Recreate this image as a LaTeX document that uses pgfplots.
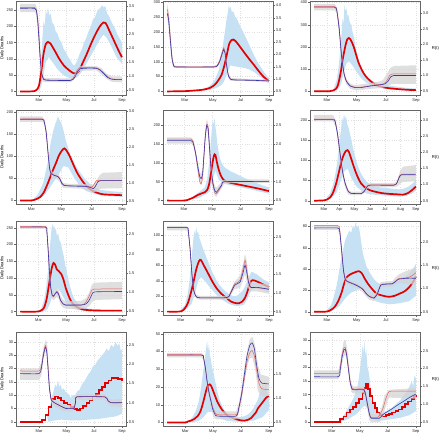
\documentclass[border=0pt]{standalone}
\usepackage{fontspec}
\setmainfont{Liberation Sans}
\usepackage{pgfplots}
\pgfplotsset{compat=1.18}
\definecolor{bandblue}{RGB}{198,225,244}
\definecolor{rblue}{RGB}{55,55,175}
\definecolor{rred}{RGB}{238,95,95}
\definecolor{dred}{RGB}{226,0,0}
\pgfplotsset{
  base/.style={scale only axis, width=110pt, height=94pt, anchor=south west,
    axis line style={draw=black!60, line width=0.4pt},
    tick style={draw=black!60, line width=0.35pt},
    tick align=outside, major tick length=1.6pt,
    tick label style={font=\fontsize{4}{4.5}\selectfont, text=black!85, inner sep=1pt},
    /pgf/number format/assume math mode=true,
    clip=true},
  lft/.style={base, xtick={0,61,122,184}, xticklabels={Mar,May,Jul,Sep},
    tick pos=left, grid=major,
    major grid style={dotted, black!12, line width=0.3pt},
    yticklabel style={/pgf/number format/fixed}, xticklabel style={yshift=-0.8pt},
    every axis y label/.style={at={(axis description cs:-0.125,0.5)}, rotate=90, anchor=center, font=\fontsize{4.2}{4.5}\selectfont}},
  rgt/.style={base, axis x line=none, axis y line*=right,
    yticklabel style={/pgf/number format/.cd, fixed, fixed zerofill, precision=1}},
  rlab/.style={ylabel={R(t)}, every axis y label/.style={at={(axis description cs:1.14,0.5)}, anchor=center, font=\fontsize{4.2}{4.5}\selectfont}},
  bandB/.style={fill=bandblue, draw=none},
  bandG/.style={fill=black!17, draw=none, fill opacity=0.75},
  dline/.style={color=dred, line width=1.7pt, smooth, tension=0.5},
  dstep/.style={color=dred, line width=1.6pt, const plot mark left},
  rb/.style={color=rblue, line width=0.6pt, smooth, tension=0.3},
  rr/.style={color=rred, line width=0.5pt, smooth, tension=0.3},
}
\begin{document}
\begin{tikzpicture}
\path[use as bounding box] (0,0) rectangle (440pt,435pt);
% ---------------- Panel 1
\begin{axis}[lft, at={(16pt,340pt)}, xmin=-51, xmax=193, ymin=-11, ymax=278, ytick={0,50,...,250}, ylabel={Daily Deaths}]
\addplot[bandB] coordinates {(0,15) (4,80) (7,150) (10,215) (13,200) (15,250) (18,235) (20,258) (23,232) (26,240) (29,212) (33,205) (37,185) (41,178) (45,160) (50,150) (55,130) (60,120) (65,105) (70,95) (75,82) (79,80) (84,92) (90,115) (95,130) (100,150) (105,165) (110,185) (115,200) (120,222) (125,230) (130,250) (135,255) (140,265) (143,258) (147,262) (151,240) (156,230) (162,210) (168,195) (174,175) (180,160) (184,150) (184,85) (172,105) (160,140) (150,165) (143,175) (135,160) (125,135) (115,110) (105,85) (95,60) (85,45) (78,38) (70,40) (60,45) (50,55) (40,70) (30,90) (22,105) (15,90) (10,50) (5,15) (0,2)} -- cycle;
\addplot[dline] coordinates {(-42,0) (-20,0) (-10,1) (-5,5) (0,18) (5,60) (10,115) (15,145) (20,152) (25,148) (35,125) (45,100) (55,80) (65,67) (75,57) (80,55) (88,62) (96,85) (105,112) (115,145) (125,175) (135,200) (143,212) (148,210) (155,190) (165,160) (175,130) (184,105)};
\end{axis}
\begin{axis}[rgt, at={(16pt,340pt)}, xmin=-51, xmax=193, ymin=0.32, ymax=3.68, ytick={0.5,1,...,3.5}]
\addplot[bandG] coordinates {(-42,3.58) (-8,3.58) (-4,3.4) (0,2.8) (4,1.8) (8,1.08) (12,0.93) (70,0.91) (78,1.05) (86,1.3) (90,1.35) (128,1.35) (138,1.28) (150,1.08) (162,0.99) (184,0.98) (184,0.77) (162,0.79) (150,0.9) (138,1.06) (128,1.2) (90,1.18) (84,1.1) (76,0.85) (70,0.78) (12,0.78) (8,0.82) (4,1.3) (0,2.0) (-4,2.9) (-8,3.28) (-42,3.28)} -- cycle;
\addplot[rr] coordinates {(-42,3.45) (-10,3.45) (-6,3.38) (-3,3.05) (0,2.4) (3,1.6) (6,1.1) (10,0.9) (15,0.86) (40,0.85) (70,0.85) (75,0.9) (80,1.05) (85,1.22) (90,1.3) (110,1.3) (128,1.29) (136,1.22) (144,1.1) (152,0.98) (160,0.9) (170,0.88) (184,0.88)};
\addplot[rb] coordinates {(-42,3.42) (-10,3.42) (-6,3.35) (-3,3.0) (0,2.3) (3,1.55) (6,1.08) (10,0.88) (15,0.85) (40,0.84) (70,0.84) (76,0.88) (81,1.0) (86,1.18) (91,1.26) (110,1.28) (128,1.27) (136,1.2) (144,1.08) (152,0.95) (160,0.89) (170,0.87) (184,0.87)};
\end{axis}
% ---------------- Panel 2
\begin{axis}[lft, at={(163pt,340pt)}, xmin=-48, xmax=193, ymin=-12, ymax=305, ytick={0,50,...,300}]
\addplot[bandB] coordinates {(40,8) (50,14) (58,25) (65,38) (70,55) (75,75) (79,110) (82,140) (85,175) (88,205) (91,240) (94,265) (96,290) (98,280) (100,285) (103,268) (106,270) (110,252) (114,245) (118,230) (123,215) (128,200) (134,180) (140,160) (146,140) (152,120) (158,102) (165,85) (172,68) (178,55) (184,45) (184,28) (175,35) (165,50) (152,65) (140,75) (128,80) (118,82) (108,85) (100,88) (95,72) (90,50) (85,32) (80,22) (72,14) (62,8) (50,4) (40,2)} -- cycle;
\addplot[dline] coordinates {(-39,0) (0,1) (20,3) (40,6) (55,12) (65,22) (72,35) (80,55) (86,85) (92,125) (97,160) (102,173) (106,175) (112,168) (122,148) (132,127) (142,107) (152,88) (162,68) (172,50) (184,35)};
\end{axis}
\begin{axis}[rgt, at={(163pt,340pt)}, xmin=-48, xmax=193, ymin=0.35, ymax=4.18, ytick={0.5,1,...,4}]
\addplot[bandG] coordinates {(-39,4.05) (-36,3.8) (-32,3.0) (-28,2.0) (-24,1.58) (-18,1.53) (60,1.53) (70,1.58) (76,1.8) (82,2.2) (85,2.35) (88,2.2) (91,1.75) (95,1.25) (100,1.05) (140,1.0) (184,0.97) (184,0.87) (140,0.92) (100,0.93) (95,1.05) (91,1.45) (88,1.9) (85,2.05) (82,1.9) (76,1.6) (70,1.47) (60,1.45) (-18,1.45) (-24,1.45) (-28,1.6) (-32,2.2) (-36,3.2) (-39,3.5)} -- cycle;
\addplot[rr] coordinates {(-39,3.85) (-36,3.6) (-32,2.7) (-28,1.85) (-24,1.53) (-18,1.5) (60,1.5) (70,1.54) (76,1.75) (82,2.12) (85,2.27) (88,2.1) (91,1.65) (95,1.18) (100,1.0) (110,0.97) (140,0.96) (160,0.95) (184,0.93)};
\addplot[rb] coordinates {(-39,3.68) (-36,3.45) (-32,2.6) (-28,1.8) (-24,1.52) (-18,1.49) (60,1.49) (70,1.52) (76,1.7) (82,2.05) (85,2.2) (88,2.05) (91,1.6) (95,1.15) (100,0.99) (110,0.96) (140,0.95) (160,0.94) (184,0.92)};
\end{axis}
% ---------------- Panel 3
\begin{axis}[lft, at={(310pt,340pt)}, xmin=-35.4, xmax=192.4, ymin=-17, ymax=407, ytick={0,100,...,400}]
\addplot[bandB] coordinates {(15,20) (20,50) (24,110) (27,180) (30,260) (32,330) (34,300) (36,390) (38,360) (40,375) (42,340) (44,345) (47,310) (50,300) (53,265) (56,240) (59,200) (62,170) (66,135) (70,110) (75,88) (80,70) (88,55) (95,45) (110,32) (130,25) (160,16) (184,12) (184,2) (160,4) (130,8) (110,15) (95,25) (80,40) (70,60) (60,90) (52,118) (45,135) (40,125) (35,90) (30,40) (25,15) (20,5) (15,1)} -- cycle;
\addplot[dline] coordinates {(-27,0) (5,0) (12,3) (18,10) (22,25) (25,50) (29,95) (32,140) (36,185) (39,215) (42,235) (45,240) (48,235) (52,218) (56,195) (60,165) (65,130) (70,105) (76,80) (83,60) (92,42) (100,30) (112,20) (127,14) (150,9) (170,6) (184,5)};
\end{axis}
\begin{axis}[rgt, rlab, at={(310pt,340pt)}, xmin=-35.4, xmax=192.4, ymin=0.36, ymax=3.4, ytick={0.5,1,...,3}]
\addplot[bandG] coordinates {(-27,3.3) (16,3.3) (20,3.2) (25,2.65) (30,1.75) (35,1.15) (40,0.88) (48,0.72) (58,0.68) (70,0.7) (90,0.75) (110,0.8) (116,0.85) (124,1.05) (132,1.25) (140,1.3) (184,1.32) (184,0.72) (140,0.72) (132,0.7) (124,0.63) (116,0.6) (110,0.58) (90,0.56) (70,0.52) (58,0.52) (48,0.56) (40,0.7) (35,0.92) (30,1.45) (25,2.3) (20,3.0) (16,3.1) (-27,3.1)} -- cycle;
\addplot[rr] coordinates {(-27,3.22) (15,3.22) (20,3.12) (25,2.55) (30,1.65) (35,1.08) (40,0.82) (48,0.66) (58,0.61) (70,0.61) (90,0.66) (110,0.7) (118,0.73) (124,0.83) (130,1.0) (136,1.04) (184,1.04)};
\addplot[rb] coordinates {(-27,3.2) (15,3.2) (20,3.1) (25,2.5) (30,1.6) (35,1.05) (40,0.8) (48,0.65) (58,0.6) (70,0.6) (90,0.65) (110,0.69) (120,0.72) (126,0.8) (132,0.95) (138,0.99) (184,0.99)};
\end{axis}
% ---------------- Panel 4
\begin{axis}[lft, at={(16pt,231pt)}, xmin=-31.3, xmax=192.3, ymin=-8, ymax=205, ytick={0,50,...,200}, ylabel={Daily Deaths}]
\addplot[bandB] coordinates {(5,5) (12,12) (18,25) (24,40) (30,70) (35,95) (39,130) (42,145) (45,160) (48,172) (51,180) (54,190) (57,183) (60,176) (63,168) (66,155) (70,135) (75,118) (80,100) (85,90) (92,75) (100,62) (110,47) (125,32) (140,24) (160,21) (184,19) (184,8) (160,10) (140,12) (125,16) (110,22) (95,38) (85,55) (75,75) (65,78) (55,58) (45,42) (35,25) (25,10) (15,4) (5,1)} -- cycle;
\addplot[dline] coordinates {(-23,0) (0,0) (5,1) (10,3) (18,8) (25,18) (32,35) (39,55) (45,72) (50,85) (56,102) (62,113) (67,118) (72,112) (78,100) (85,82) (92,65) (100,50) (110,35) (120,25) (132,18) (145,14) (160,13) (184,12)};
\end{axis}
\begin{axis}[rgt, at={(16pt,231pt)}, xmin=-31.3, xmax=192.3, ymin=0.41, ymax=3.03, ytick={0.5,1,...,3}]
\addplot[bandG] coordinates {(-23,2.85) (22,2.85) (27,2.75) (31,2.45) (35,1.85) (38,1.45) (41,1.32) (48,1.28) (54,1.25) (58,1.18) (62,1.05) (66,0.99) (80,0.97) (110,0.97) (120,0.95) (126,0.95) (132,1.05) (138,1.2) (145,1.28) (184,1.3) (184,0.85) (145,0.84) (138,0.83) (132,0.76) (126,0.73) (120,0.78) (110,0.83) (80,0.85) (66,0.86) (62,0.9) (58,1.02) (54,1.08) (48,1.12) (41,1.15) (38,1.3) (35,1.7) (31,2.3) (27,2.62) (22,2.7) (-23,2.7)} -- cycle;
\addplot[rr] coordinates {(-23,2.78) (22,2.78) (26,2.71) (30,2.42) (34,1.82) (37,1.42) (40,1.27) (48,1.21) (54,1.18) (58,1.11) (62,0.99) (66,0.94) (80,0.92) (110,0.91) (118,0.89) (123,0.88) (127,0.95) (132,1.06) (138,1.07) (184,1.07)};
\addplot[rb] coordinates {(-23,2.77) (22,2.77) (26,2.7) (30,2.4) (34,1.8) (37,1.4) (40,1.25) (48,1.2) (54,1.17) (58,1.1) (62,0.98) (66,0.93) (80,0.91) (110,0.9) (120,0.87) (126,0.84) (130,0.9) (135,1.03) (140,1.06) (184,1.06)};
\end{axis}
% ---------------- Panel 5
\begin{axis}[lft, at={(163pt,231pt)}, xmin=-45.8, xmax=192.8, ymin=-9, ymax=239, ytick={0,50,...,200}]
\addplot[bandB] coordinates {(20,12) (30,20) (38,28) (45,35) (50,55) (54,100) (57,140) (60,185) (62,210) (64,200) (66,218) (68,195) (70,175) (72,150) (75,128) (78,110) (82,98) (86,90) (92,84) (100,78) (110,72) (120,66) (130,60) (140,55) (150,50) (160,45) (170,40) (184,35) (184,18) (170,22) (150,28) (130,33) (110,38) (95,42) (85,45) (75,55) (68,80) (62,55) (56,25) (50,18) (40,12) (30,6) (20,3)} -- cycle;
\addplot[dline] coordinates {(-37,0) (0,0) (10,3) (20,8) (30,15) (38,19) (45,22) (50,28) (54,42) (58,70) (61,95) (64,115) (66,122) (68,120) (71,102) (75,82) (79,68) (84,57) (90,51) (100,47) (120,42) (140,37) (160,32) (184,25)};
\end{axis}
\begin{axis}[rgt, at={(163pt,231pt)}, xmin=-45.8, xmax=192.8, ymin=0.41, ymax=2.89, ytick={0.5,1,...,2.5}]
\addplot[bandG] coordinates {(-37,2.17) (15,2.17) (20,2.1) (25,1.85) (30,1.5) (34,1.25) (37,1.2) (40,1.35) (43,1.85) (46,2.35) (49,2.65) (52,2.55) (55,2.05) (58,1.55) (62,1.12) (66,0.9) (70,0.84) (75,0.9) (82,1.0) (88,1.06) (184,1.06) (184,0.97) (88,0.96) (82,0.84) (75,0.7) (70,0.6) (66,0.63) (62,0.86) (58,1.25) (55,1.75) (52,2.25) (49,2.38) (46,2.05) (43,1.55) (40,1.05) (37,0.9) (34,0.95) (30,1.2) (25,1.65) (20,1.95) (15,2.0) (-37,2.0)} -- cycle;
\addplot[rr] coordinates {(-37,2.12) (15,2.12) (20,2.03) (25,1.72) (30,1.3) (34,1.0) (37,0.94) (40,1.1) (43,1.65) (46,2.2) (49,2.52) (52,2.45) (55,1.95) (58,1.38) (62,0.95) (66,0.72) (70,0.68) (75,0.76) (82,0.9) (88,1.0) (184,1.01)};
\addplot[rb] coordinates {(-37,2.08) (15,2.08) (20,2.0) (25,1.75) (30,1.38) (34,1.13) (37,1.08) (40,1.2) (43,1.7) (46,2.2) (49,2.48) (52,2.4) (55,1.9) (58,1.4) (62,1.0) (66,0.78) (70,0.72) (75,0.8) (82,0.92) (88,1.0) (184,1.0)};
\end{axis}
% ---------------- Panel 6
\begin{axis}[lft, at={(310pt,231pt)}, xmin=-28.2, xmax=192.2, ymin=-8, ymax=224, ytick={0,50,...,200}, xtick={0,31,61,92,122,153,184}, xticklabels={Mar,Apr,May,Jun,Jul,Aug,Sep}]
\addplot[bandB] coordinates {(5,8) (12,18) (18,40) (24,75) (28,110) (31,150) (34,175) (36,205) (38,195) (40,215) (42,200) (44,210) (46,190) (49,180) (52,165) (55,148) (58,130) (62,110) (66,92) (70,78) (75,65) (80,55) (86,46) (95,38) (105,34) (120,32) (135,30) (150,28) (160,30) (168,34) (175,40) (180,46) (184,52) (184,25) (175,17) (165,12) (150,10) (130,12) (100,15) (85,18) (75,25) (65,35) (55,55) (47,80) (40,72) (32,45) (25,20) (15,6) (5,1)} -- cycle;
\addplot[dline] coordinates {(-20,0) (0,1) (6,3) (12,8) (18,20) (24,42) (30,72) (35,98) (40,115) (44,123) (47,125) (50,120) (54,105) (58,90) (63,72) (68,57) (74,43) (80,35) (90,27) (100,23) (115,19) (130,17) (145,16) (158,15) (168,19) (176,26) (184,35)};
\end{axis}
\begin{axis}[rgt, rlab, at={(310pt,231pt)}, xmin=-28.2, xmax=192.2, ymin=0.4, ymax=3.3, ytick={0.5,1,...,3}]
\addplot[bandG] coordinates {(-20,3.15) (18,3.15) (24,2.95) (30,2.3) (36,1.55) (42,1.1) (48,0.85) (54,0.78) (74,0.78) (80,0.86) (88,1.02) (92,1.04) (140,1.04) (146,1.1) (152,1.4) (158,1.55) (184,1.6) (184,1.1) (158,1.08) (152,1.02) (146,0.94) (140,0.92) (92,0.92) (88,0.9) (80,0.74) (74,0.67) (54,0.67) (48,0.7) (42,0.92) (36,1.3) (30,2.0) (24,2.75) (18,2.95) (-20,2.95)} -- cycle;
\addplot[rr] coordinates {(-20,3.02) (18,3.02) (22,2.97) (27,2.58) (32,1.98) (37,1.42) (42,1.06) (48,0.81) (54,0.73) (74,0.72) (80,0.79) (86,0.94) (92,0.99) (140,0.99) (146,1.06) (150,1.22) (155,1.32) (184,1.32)};
\addplot[rb] coordinates {(-20,3.0) (18,3.0) (22,2.95) (27,2.55) (32,1.95) (37,1.4) (42,1.05) (48,0.8) (54,0.73) (74,0.72) (80,0.78) (86,0.93) (92,0.98) (140,0.98) (146,1.05) (150,1.2) (155,1.3) (184,1.3)};
\end{axis}
% ---------------- Panel 7
\begin{axis}[lft, at={(16pt,120pt)}, xmin=-50, xmax=193, ymin=-10, ymax=270, ytick={0,50,...,250}, ylabel={Daily Deaths}]
\addplot[bandB] coordinates {(0,3) (6,10) (12,35) (16,65) (19,100) (22,140) (24,175) (26,210) (28,240) (30,262) (32,250) (34,258) (36,242) (38,248) (40,228) (43,232) (46,212) (49,205) (52,185) (55,168) (58,145) (62,120) (66,95) (70,72) (75,50) (80,35) (88,22) (95,15) (110,9) (140,6) (184,6) (184,0) (140,0) (110,1) (95,3) (80,7) (70,15) (60,30) (50,55) (42,70) (36,65) (30,45) (24,20) (18,5) (10,1) (0,0)} -- cycle;
\addplot[dline] coordinates {(-41,0) (-5,0) (5,3) (12,12) (18,40) (24,90) (29,130) (33,145) (37,138) (40,126) (45,120) (50,112) (55,95) (60,70) (66,48) (72,30) (80,18) (90,10) (100,6) (115,4) (140,3) (184,3)};
\end{axis}
\begin{axis}[rgt, at={(16pt,120pt)}, xmin=-50, xmax=193, ymin=0.41, ymax=2.85, ytick={0.5,1,...,2.5}]
\addplot[bandG] coordinates {(-41,2.73) (15,2.73) (18,2.68) (21,2.3) (24,1.7) (27,1.25) (30,1.05) (33,1.0) (36,1.06) (40,1.12) (44,1.06) (48,0.92) (54,0.8) (60,0.77) (95,0.78) (105,0.85) (112,1.0) (118,1.2) (124,1.25) (184,1.27) (184,0.82) (124,0.8) (118,0.75) (112,0.64) (105,0.59) (95,0.57) (60,0.57) (54,0.6) (48,0.68) (44,0.84) (40,0.88) (36,0.83) (33,0.8) (30,0.82) (27,0.95) (24,1.3) (21,1.9) (18,2.52) (15,2.65) (-41,2.65)} -- cycle;
\addplot[rr] coordinates {(-41,2.71) (15,2.71) (18,2.62) (21,2.12) (24,1.52) (27,1.1) (30,0.91) (33,0.88) (36,0.96) (40,1.03) (44,0.97) (48,0.8) (54,0.69) (60,0.66) (95,0.67) (103,0.72) (110,0.86) (116,1.02) (122,1.08) (184,1.09)};
\addplot[rb] coordinates {(-41,2.69) (15,2.69) (18,2.6) (21,2.1) (24,1.5) (27,1.1) (30,0.93) (33,0.9) (36,0.95) (40,1.0) (44,0.95) (48,0.8) (54,0.7) (60,0.67) (95,0.67) (105,0.7) (112,0.8) (118,0.95) (124,1.01) (184,1.02)};
\end{axis}
% ---------------- Panel 8
\begin{axis}[lft, at={(163pt,120pt)}, xmin=-37.5, xmax=192.5, ymin=-4.4, ymax=118, ytick={0,20,...,100}]
\addplot[bandB] coordinates {(0,3) (8,8) (14,22) (18,40) (21,60) (24,80) (26,95) (28,105) (30,100) (32,110) (34,102) (36,104) (39,95) (42,90) (46,82) (50,76) (55,68) (60,60) (65,52) (70,46) (75,40) (80,35) (86,31) (92,27) (100,23) (110,20) (118,21) (124,24) (130,28) (135,34) (140,42) (144,48) (148,52) (154,50) (160,48) (166,45) (172,42) (178,40) (184,38) (184,25) (172,28) (160,30) (150,30) (144,24) (138,15) (132,9) (120,7) (110,8) (100,10) (90,14) (80,18) (70,25) (60,32) (50,40) (42,45) (36,40) (30,25) (22,10) (12,3) (0,0)} -- cycle;
\addplot[dline] coordinates {(-29,0) (-5,0) (5,2) (15,12) (25,35) (32,55) (38,66) (42,67) (48,60) (55,52) (65,40) (75,30) (85,23) (95,18) (105,13) (115,11) (122,11) (128,13) (134,18) (140,28) (145,38) (150,41) (160,39) (170,36) (184,32)};
\end{axis}
\begin{axis}[rgt, at={(163pt,120pt)}, xmin=-37.5, xmax=192.5, ymin=0.41, ymax=2.93, ytick={0.5,1,...,2.5}]
\addplot[bandG] coordinates {(-29,2.8) (12,2.8) (15,2.75) (19,2.3) (23,1.6) (27,1.12) (32,0.95) (40,0.92) (90,0.92) (100,0.96) (106,1.12) (112,1.3) (118,1.38) (124,1.48) (130,1.78) (134,2.05) (137,1.9) (141,1.48) (146,1.28) (160,1.26) (184,1.24) (184,0.98) (160,1.04) (146,1.04) (141,1.12) (137,1.35) (134,1.5) (130,1.35) (124,1.14) (118,1.12) (112,1.1) (106,0.98) (100,0.84) (90,0.82) (40,0.82) (32,0.85) (27,0.98) (23,1.4) (19,2.1) (15,2.62) (12,2.68) (-29,2.68)} -- cycle;
\addplot[rr] coordinates {(-29,2.76) (12,2.76) (15,2.71) (19,2.22) (23,1.52) (27,1.06) (32,0.9) (40,0.87) (90,0.87) (100,0.91) (106,1.08) (112,1.24) (118,1.28) (124,1.35) (130,1.65) (134,1.88) (137,1.7) (141,1.33) (146,1.16) (160,1.14) (184,1.1)};
\addplot[rb] coordinates {(-29,2.75) (12,2.75) (15,2.7) (19,2.2) (23,1.5) (27,1.05) (32,0.9) (40,0.87) (90,0.87) (100,0.9) (106,1.05) (112,1.2) (118,1.25) (124,1.3) (130,1.55) (134,1.75) (137,1.6) (141,1.3) (146,1.15) (160,1.15) (184,1.1)};
\end{axis}
% ---------------- Panel 9
\begin{axis}[lft, at={(310pt,120pt)}, xmin=-35.4, xmax=192.4, ymin=-3, ymax=85, ytick={0,20,...,80}]
\addplot[bandB] coordinates {(0,2) (8,6) (14,14) (20,25) (25,38) (30,52) (34,60) (38,68) (42,72) (46,76) (50,74) (53,80) (56,78) (59,83) (62,79) (65,81) (68,74) (71,64) (74,55) (78,48) (82,42) (88,37) (95,32) (102,28) (110,26) (120,25) (130,25) (140,27) (150,30) (160,32) (170,36) (178,40) (184,45) (184,15) (170,10) (150,8) (130,7) (115,8) (100,10) (90,15) (80,20) (70,22) (60,20) (50,18) (40,14) (30,8) (22,4) (12,1) (0,0)} -- cycle;
\addplot[dline] coordinates {(-27,0) (-5,0) (5,1) (12,3) (18,6) (24,11) (30,18) (35,26) (40,32) (48,35) (58,37) (66,38) (72,36) (78,31) (85,26) (92,22) (100,18) (108,16) (116,15) (128,14) (140,15) (150,17) (160,19) (170,23) (178,28) (184,33)};
\end{axis}
\begin{axis}[rgt, rlab, at={(310pt,120pt)}, xmin=-35.4, xmax=192.4, ymin=0.43, ymax=2.45, ytick={0.5,1,...,2}]
\addplot[bandG] coordinates {(-27,2.36) (22,2.36) (26,2.3) (30,1.9) (34,1.45) (38,1.25) (46,1.18) (60,1.12) (73,1.04) (80,0.96) (87,0.9) (97,0.86) (104,0.95) (111,1.14) (135,1.16) (148,1.3) (165,1.38) (184,1.45) (184,1.08) (165,1.1) (148,1.12) (135,1.04) (111,1.02) (104,0.82) (97,0.73) (87,0.76) (80,0.84) (73,0.93) (60,1.02) (46,1.08) (38,1.1) (34,1.3) (30,1.7) (26,2.15) (22,2.26) (-27,2.26)} -- cycle;
\addplot[rr] coordinates {(-27,2.35) (22,2.35) (26,2.28) (30,1.85) (34,1.4) (38,1.19) (46,1.14) (60,1.08) (73,1.0) (80,0.91) (87,0.84) (97,0.8) (104,0.9) (111,1.08) (120,1.1) (135,1.11) (142,1.16) (148,1.21) (165,1.23) (172,1.25) (178,1.29) (184,1.34)};
\addplot[rb] coordinates {(-27,2.3) (22,2.3) (26,2.24) (30,1.82) (34,1.38) (38,1.18) (46,1.13) (60,1.07) (73,0.99) (80,0.9) (87,0.83) (97,0.79) (104,0.88) (111,1.07) (120,1.09) (135,1.1) (142,1.15) (148,1.2) (165,1.22) (184,1.22)};
\end{axis}
% ---------------- Panel 10
\begin{axis}[lft, at={(16pt,9pt)}, xmin=-51, xmax=193, ymin=-1.6, ymax=33.75, ytick={0,5,...,30}, ylabel={Daily Deaths}]
\addplot[bandB] coordinates {(18,2) (22,4) (26,7) (30,10) (33,12) (36,14) (39,13) (42,15.5) (45,13) (48,14) (51,12) (55,12.5) (60,11) (65,10.5) (70,9) (75,10) (80,10) (85,11.5) (90,12) (95,14) (100,15) (105,16.5) (110,18) (115,19) (120,21) (125,21.5) (130,23) (135,24) (140,25) (145,26) (150,27.5) (155,26.5) (160,29) (165,28) (170,30) (174,28.5) (178,29.5) (181,27) (184,27) (184,3) (170,2) (150,1.5) (130,1) (110,0.8) (90,0.5) (70,0.5) (50,0.8) (35,0.5) (20,0)} -- cycle;
\addplot[dstep] coordinates {(-42,0) (7,0.6) (14,2.5) (21,5.5) (28,8.5) (35,9.5) (42,9) (49,8) (56,7) (63,6.5) (70,5.5) (77,4.8) (84,4.5) (91,5) (98,6) (105,7) (112,8) (119,9.5) (126,10.5) (133,12) (140,13) (147,14.5) (154,15.5) (161,16.5) (168,16.5) (175,16) (184,15.5)};
\end{axis}
\begin{axis}[rgt, at={(16pt,9pt)}, xmin=-51, xmax=193, ymin=0.39, ymax=2.85, ytick={0.5,1,...,2.5}]
\addplot[bandG] coordinates {(-42,1.9) (0,1.9) (5,2.05) (10,2.45) (15,2.65) (18,2.55) (21,2.0) (24,1.45) (28,1.12) (35,1.05) (50,0.98) (59,0.93) (77,0.93) (84,1.22) (146,1.22) (155,1.1) (165,1.08) (184,1.1) (184,0.88) (165,0.9) (155,0.94) (146,1.07) (84,1.07) (77,0.77) (59,0.77) (50,0.8) (35,0.9) (28,0.95) (24,1.2) (21,1.65) (18,2.25) (15,2.35) (10,2.15) (5,1.7) (0,1.6) (-42,1.6)} -- cycle;
\addplot[rr] coordinates {(-42,1.83) (0,1.83) (5,1.93) (10,2.3) (14,2.5) (17,2.4) (20,1.95) (23,1.42) (27,1.08) (34,1.0) (50,0.9) (59,0.86) (77,0.86) (81,1.02) (84,1.16) (146,1.16) (153,1.06) (160,1.0) (184,1.0)};
\addplot[rb] coordinates {(-42,1.76) (0,1.76) (5,1.88) (10,2.25) (14,2.45) (17,2.35) (20,1.9) (23,1.4) (27,1.08) (34,1.0) (50,0.9) (59,0.85) (77,0.85) (81,1.0) (84,1.15) (146,1.15) (153,1.05) (160,1.0) (184,1.0)};
\end{axis}
% ---------------- Panel 11
\begin{axis}[lft, at={(163pt,9pt)}, xmin=-49, xmax=193, ymin=-2, ymax=51, ytick={0,10,...,50}]
\addplot[bandB] coordinates {(10,1) (16,3) (22,6) (28,10) (32,15) (36,22) (40,30) (43,36) (46,42) (48,46) (50,40) (52,44) (54,38) (56,36) (59,31) (62,28) (66,23) (70,18) (75,13) (80,10) (86,7) (92,5.5) (100,4) (110,3) (120,3) (130,3.5) (138,4.5) (144,6) (150,8) (156,11) (160,13) (164,17) (168,19) (171,22) (174,18) (177,23) (180,17) (184,15) (184,7) (170,3) (150,1) (130,0.5) (110,0.5) (90,1) (80,2) (70,4) (60,6) (50,6) (40,3) (30,1) (20,0.3) (10,0)} -- cycle;
\addplot[dline] coordinates {(-40,0) (0,0) (5,0.5) (12,1) (20,2) (27,3.5) (33,6) (38,10) (42,14) (46,18) (50,21) (54,21.5) (58,20) (64,16) (70,12) (74,10) (80,7.5) (86,5.5) (94,3.5) (100,3) (110,2) (120,1.3) (130,1) (138,1.5) (145,2.5) (150,4) (155,5.5) (160,8) (166,10) (172,12) (178,14) (184,15)};
\end{axis}
\begin{axis}[rgt, at={(163pt,9pt)}, xmin=-49, xmax=193, ymin=0.41, ymax=2.4, ytick={0.5,1,...,2}]
\addplot[bandG] coordinates {(-40,1.96) (36,1.96) (40,1.9) (44,1.7) (48,1.4) (52,1.2) (56,1.0) (62,0.8) (68,0.72) (112,0.72) (118,0.9) (124,1.2) (130,1.65) (137,2.05) (142,2.25) (148,2.3) (154,2.1) (160,1.7) (166,1.5) (184,1.45) (184,1.05) (166,1.05) (160,1.15) (154,1.6) (148,1.85) (142,1.85) (137,1.7) (130,1.35) (124,0.95) (118,0.68) (112,0.55) (68,0.55) (62,0.6) (56,0.8) (52,1.0) (48,1.25) (44,1.55) (40,1.8) (36,1.86) (-40,1.86)} -- cycle;
\addplot[rr] coordinates {(-40,1.92) (36,1.92) (40,1.87) (44,1.67) (48,1.38) (52,1.16) (56,0.98) (60,0.82) (65,0.7) (70,0.65) (112,0.65) (118,0.8) (124,1.05) (130,1.4) (136,1.78) (142,1.96) (147,2.01) (152,1.9) (157,1.6) (162,1.32) (168,1.2) (184,1.18)};
\addplot[rb] coordinates {(-40,1.91) (36,1.91) (40,1.86) (44,1.65) (48,1.35) (52,1.12) (56,0.95) (60,0.78) (65,0.66) (70,0.62) (112,0.62) (118,0.8) (124,1.1) (130,1.5) (136,1.9) (142,2.12) (147,2.17) (152,2.05) (157,1.7) (162,1.42) (168,1.32) (184,1.3)};
\end{axis}
% ---------------- Panel 12
\begin{axis}[lft, at={(310pt,9pt)}, xmin=-48, xmax=193, ymin=-1.5, ymax=33, ytick={0,5,...,30}]
\addplot[bandB] coordinates {(20,1) (28,3) (35,5) (42,7) (48,9) (52,11) (56,13) (59,16) (62,20) (65,24) (67,28) (69,25) (71,30) (73,24) (75,27) (78,20) (81,18) (85,12) (90,8) (95,5) (100,4) (110,3.5) (120,4) (130,5) (140,6.5) (150,8) (158,10) (164,11) (170,13) (175,15) (178,13) (181,17) (184,16) (184,4) (170,2.5) (150,1.5) (130,1) (110,0.5) (95,0.5) (85,2) (78,5) (72,6) (65,5) (55,3) (45,2) (35,1) (20,0)} -- cycle;
\addplot[dstep] coordinates {(-39,0) (18,1) (25,2) (32,3.5) (39,4.5) (46,5.5) (53,7) (60,8.5) (67,10.5) (71,12.5) (75,14) (79,12) (84,9.5) (89,7) (94,5) (99,3.5) (104,2.5) (110,2) (118,2.5) (125,3) (132,3.5) (139,4) (146,4.5) (153,5.5) (160,6.5) (167,7.5) (174,8.5) (180,9.5) (184,10)};
\end{axis}
\begin{axis}[rgt, rlab, at={(310pt,9pt)}, xmin=-48, xmax=193, ymin=0.38, ymax=3.03, ytick={0.5,1,...,2.5}]
\addplot[bandG] coordinates {(-39,1.95) (14,1.95) (18,2.15) (22,2.5) (26,2.78) (30,2.8) (34,2.5) (38,2.0) (42,1.6) (46,1.5) (70,1.5) (76,1.25) (82,0.85) (86,0.72) (104,0.72) (110,0.95) (116,1.25) (125,1.4) (184,1.45) (184,1.15) (125,1.18) (116,0.85) (110,0.6) (104,0.48) (86,0.48) (82,0.55) (76,0.95) (70,1.3) (46,1.3) (42,1.35) (38,1.7) (34,2.15) (30,2.38) (26,2.35) (22,2.1) (18,1.8) (14,1.7) (-39,1.7)} -- cycle;
\addplot[rr] coordinates {(-39,1.86) (14,1.86) (18,2.03) (22,2.38) (26,2.58) (29,2.6) (32,2.45) (36,2.04) (40,1.63) (44,1.45) (48,1.42) (70,1.42) (74,1.27) (78,1.0) (82,0.74) (86,0.62) (100,0.62) (106,0.72) (112,0.88) (118,1.15) (124,1.33) (130,1.36) (184,1.36)};
\addplot[rb] coordinates {(-39,1.77) (14,1.77) (18,1.95) (22,2.3) (26,2.52) (29,2.55) (32,2.4) (36,2.0) (40,1.6) (44,1.42) (48,1.4) (70,1.4) (74,1.25) (78,0.98) (82,0.72) (86,0.6) (104,0.6) (110,0.68) (116,0.74) (130,0.85) (145,0.98) (160,1.1) (172,1.2) (184,1.28)};
\end{axis}
\end{tikzpicture}
\end{document}
